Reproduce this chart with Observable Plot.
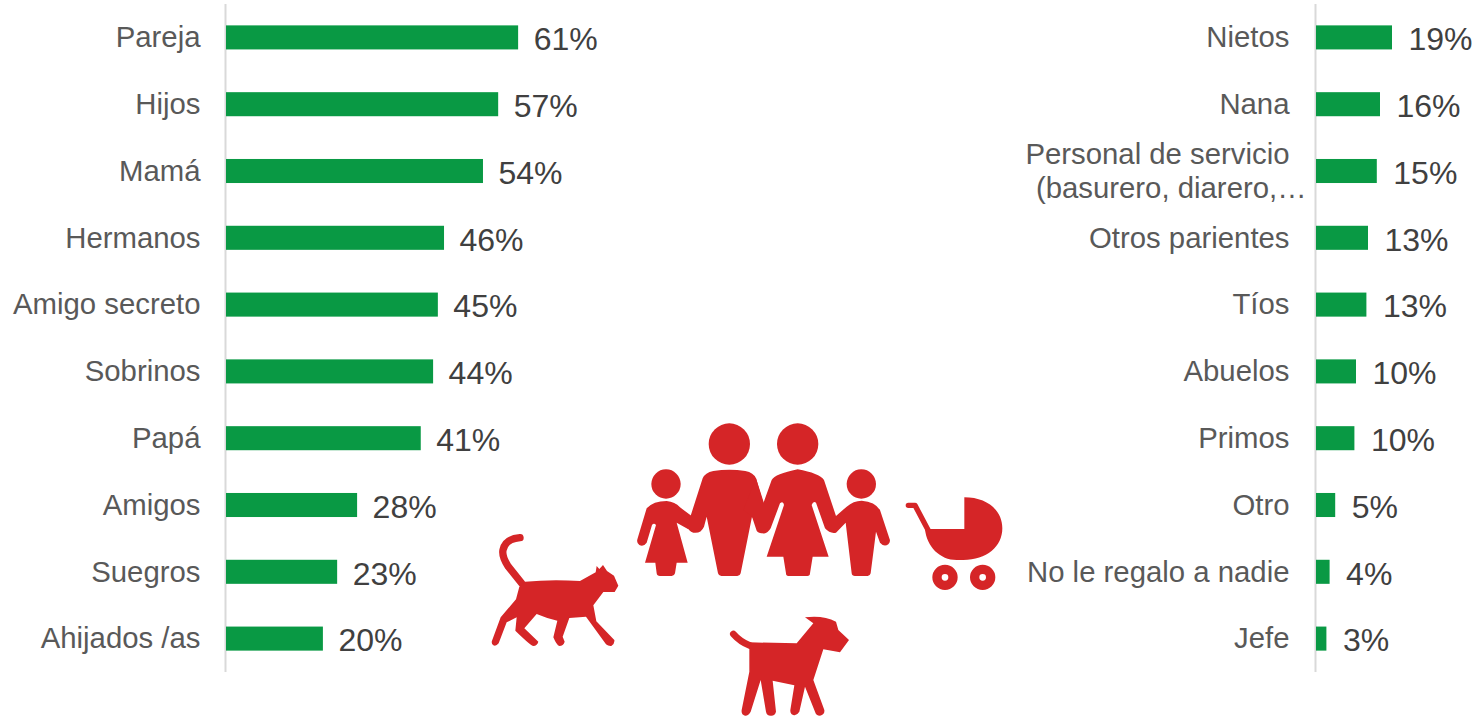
<!DOCTYPE html>
<html>
<head>
<meta charset="utf-8">
<script src="https://cdn.jsdelivr.net/npm/d3@7"></script>
<script src="https://cdn.jsdelivr.net/npm/@observablehq/plot@0.6"></script>
<style>
html,body{margin:0;padding:0;background:#fff}
#chart{position:relative;width:1476px;height:716px;overflow:hidden}
#chart svg{position:absolute;left:0;top:0;background:transparent}
</style>
</head>
<body>
<div id="chart"></div>
<script>
const leftCategories = ["Pareja","Hijos","Mamá","Hermanos","Amigo secreto","Sobrinos","Papá","Amigos","Suegros","Ahijados /as"];
const leftValues = [61.5,57.3,54.1,45.9,44.6,43.6,41,27.6,23.4,20.4];
const leftLabels = ["61%","57%","54%","46%","45%","44%","41%","28%","23%","20%"];

const rightCategories = ["Nietos","Nana","Personal de servicio","Otros parientes","Tíos","Abuelos","Primos","Otro","No le regalo a nadie","Jefe"];
const rightValues = [19,16,15.2,13,12.6,10,9.6,4.8,3.4,2.6];
const rightLabels = ["19%","16%","15%","13%","13%","10%","10%","5%","4%","3%"];
const wrappedCategory = "Personal de servicio";
const wrappedSecondLine = "(basurero, diarero,…";

const GREEN = "#099944", RED = "#d52527", AXIS = "#d9d9d9", CAT = "#595959", VAL = "#404040";
const FONT = "'Liberation Sans', Arial, sans-serif";
const root = document.getElementById("chart");

function panel(categories, values, labels, opts){
  const rows = categories.map((c,i)=>({c, v:values[i], l:labels[i]}));
  const plain = rows.filter(r=>r.c!==wrappedCategory);
  const wrapped = rows.filter(r=>r.c===wrappedCategory);
  const catText = {x:0, y:"c", textAnchor:"end", dx:opts.catDx, fill:CAT, fontSize:29.33, fontFamily:FONT};
  return Plot.plot({
    width:1476, height:716,
    marginTop:4, marginBottom:44, marginLeft:opts.left, marginRight:1476-opts.left-opts.span,
    style:{background:"transparent"},
    x:{domain:[0,opts.max], axis:null},
    y:{domain:categories, axis:null, paddingInner:0.64, paddingOuter:0.32, round:false},
    marks:[
      Plot.ruleX([0],{stroke:AXIS, strokeWidth:2, dx:-1}),
      Plot.barX(rows,{x:"v", y:"c", fill:GREEN}),
      Plot.text(plain.map(r=>r.c),{...catText, y:d=>d, text:d=>d, dy:0}),
      Plot.text(wrapped.map(r=>r.c),{...catText, y:d=>d, text:d=>d, dy:-17}),
      Plot.text(wrapped.map(r=>r.c),{...catText, y:d=>d, text:()=>wrappedSecondLine, dx:opts.catDx+17, dy:17}),
      Plot.text(rows,{x:"v", y:"c", text:"l", textAnchor:"start", dx:opts.valDx, dy:2, fill:VAL, fontSize:32, fontFamily:FONT})
    ]
  });
}

root.append(panel(leftCategories,leftValues,leftLabels,{left:226,span:475,max:100,catDx:-26,valDx:15}));
root.append(panel(rightCategories,rightValues,rightLabels,{left:1316,span:120,max:30,catDx:-27,valDx:16}));

// Decorative pictograms (not data)
const icons = `
<svg width="1476" height="716" viewBox="0 0 1476 716" xmlns="http://www.w3.org/2000/svg" fill="${RED}">
 <g transform="translate(480,410) scale(0.33333)">
  <!-- cat -->
  <path d="M125,520 L85,470 Q65,440 69,420 Q75,387 120,383" fill="none" stroke="${RED}" stroke-width="22" stroke-linecap="round"/>
  <path d="M135,515 Q215,507 300,513 L347,487 L350,468 L358,477 L369,465 L381,483 L402,497 L415,527 L404,546 L370,546 L340,586 L349,634 L403,690 Q405,700 394,708 Q385,709 378,703 L318,620 L268,624 L248,680 L254,695 Q250,708 238,708 Q230,706 220,682 L232,632 Q200,625 170,612 L133,655 L175,695 Q172,707 160,708 Q152,707 106,662 L110,622 L80,637 L56,700 Q48,710 40,706 Q33,700 36,692 L62,622 L108,568 L118,530 Z"/>
  <!-- girl -->
  <circle cx="558" cy="222" r="44"/>
  <path d="M500,295 Q520,273 560,273 Q585,275 600,292 L640,322 L625,358 L590,338 L623,458 L590,458 L585,490 Q583,498 575,498 L540,498 Q531,498 530,490 L526,458 L495,458 L528,345 Q522,337 516,345 L500,398 Q490,412 478,405 Q468,398 473,385 Z"/>
  <!-- father's head and body -->
  <circle cx="748" cy="102" r="62"/>
  <path d="M668,205 Q675,188 700,183 Q748,175 796,183 Q821,188 828,205 L852,280 L850,372 L816,320 L782,490 Q780,498 772,498 L724,498 Q716,498 714,490 L680,320 L672,350 Q662,372 640,368 Q625,362 622,350 L632,317 Z"/>
 </g>
 <g transform="translate(730,410) scale(0.33333)">
  <!-- mother and boy -->
  <circle cx="203" cy="102" r="62"/>
  <circle cx="394" cy="222" r="44"/>
  <path d="M78,205 L100,280 L125,210 Q135,192 203,178 Q268,190 282,210 L318,318 L350,290 Q370,272 395,272 Q435,275 450,300 L478,385 Q483,395 475,403 Q462,412 450,398 L438,365 L422,490 Q420,498 413,498 L375,498 Q366,498 365,490 L347,338 L318,368 Q300,372 285,355 L258,278 Q250,272 245,285 L296,440 L248,440 L240,490 Q240,498 232,498 L175,498 Q168,498 168,490 L160,440 L110,440 L162,285 Q160,272 150,280 L122,355 Q112,372 100,370 Q85,370 80,362 L66,320 L40,300 Z"/>
  <!-- stroller -->
  <path d="M535,286 L555,286 L597,365" fill="none" stroke="${RED}" stroke-width="16" stroke-linecap="round" stroke-linejoin="round"/>
  <path d="M703,262 C770,262 817,300 817,355 C817,410 770,450 700,450 L680,450 C630,450 590,410 585,357 L703,357 Z"/>
  <path fill-rule="evenodd" d="M607,502 a38,38 0 1,0 76,0 a38,38 0 1,0 -76,0 Z M635,502 a10,10 0 1,0 20,0 a10,10 0 1,0 -20,0 Z"/>
  <path fill-rule="evenodd" d="M720,502 a38,38 0 1,0 76,0 a38,38 0 1,0 -76,0 Z M748,502 a10,10 0 1,0 20,0 a10,10 0 1,0 -20,0 Z"/>
  <!-- dog -->
  <path d="M10,672 Q30,695 60,707" fill="none" stroke="${RED}" stroke-width="20" stroke-linecap="round"/>
  <path d="M58,697 L200,700 L250,640 L225,622 Q280,615 318,635 L325,660 L357,690 L330,727 L280,718 L250,810 L283,900 Q285,915 270,917 Q258,917 255,905 L225,830 L208,905 Q200,918 190,915 Q180,912 181,900 L193,826 L128,812 L138,905 Q135,918 122,917 Q110,917 108,905 L92,810 L62,905 Q55,918 45,917 Q33,914 35,900 L58,785 Z"/>
 </g>
</svg>`;
root.insertAdjacentHTML("beforeend", icons);
</script>
</body>
</html>
